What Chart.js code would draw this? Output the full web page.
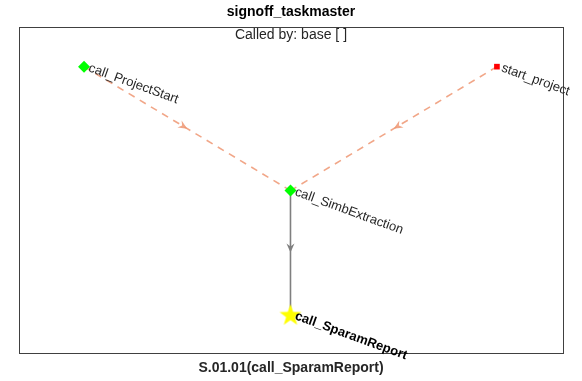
<!DOCTYPE html>
<html>
<head>
<meta charset="utf-8">
<script src="https://cdn.jsdelivr.net/npm/chart.js@4"></script>
<style>
body{margin:0;background:#fff;}
</style>
</head>
<body>
<canvas id="graphChart" width="582" height="381"></canvas>
<script>
// graph nodes (layered layout coordinates)
const nodeNames = ["call_ProjectStart","start_project","call_SimbExtraction","call_SparamReport"];
const nodeX = [1,3,2,2];
const nodeY = [3,3,2,1];
const nodeColors = ["#00ff00","#ff0000","#00ff00","#ffff00"];
// edges: from -> to
const edgeFrom = [0,1,2];
const edgeTo = [2,2,3];
const edgeColors = ["rgba(238,150,115,0.85)","rgba(238,150,115,0.85)","#7f7f7f"];
const edgeDashed = [true,true,false];
const xLimits = [0.685,3.32];
const yLimits = [0.69,3.32];

function makeStar(size){
const c = document.createElement("canvas");
c.width = size; c.height = size;
const g = c.getContext("2d");
const cx = size/2, cy = size/2+1, ro = size/2-0.5, ri = ro*0.4;
g.beginPath();
for(let i=0;i<10;i++){
const r = i%2===0 ? ro : ri;
const a = -Math.PI/2 + i*Math.PI/5;
g.lineTo(cx+r*Math.cos(a), cy+r*Math.sin(a));
}
g.closePath();
g.fillStyle = "#ffff00";
g.fill();
return c;
}
const star = makeStar(24);

const datasets = [];
datasets.push({
label:"nodes",
data: nodeX.map((x,i)=>({x:x,y:nodeY[i]})),
pointStyle:["rectRot","rect","rectRot",star],
pointRadius:[6,4,6,12],
backgroundColor:nodeColors,
borderColor:nodeColors,
borderWidth:0,
showLine:false,
order:0
});
edgeFrom.forEach((f,i)=>{
const t = edgeTo[i];
datasets.push({
label:"edge"+i,
data:[{x:nodeX[f],y:nodeY[f]},{x:nodeX[t],y:nodeY[t]}],
showLine:true,
borderColor:edgeColors[i],
borderWidth:1.6,
borderDash: edgeDashed[i] ? [7,6] : [],
pointRadius:0,
order:1
});
});

const extras = {
id:"extras",
beforeDatasetsDraw(chart){
// arrows at edge midpoints
const ctx = chart.ctx;
const xs = chart.scales.x, ys = chart.scales.y;
edgeFrom.forEach((f,i)=>{
const t = edgeTo[i];
const x1 = xs.getPixelForValue(nodeX[f]), y1 = ys.getPixelForValue(nodeY[f]);
const x2 = xs.getPixelForValue(nodeX[t]), y2 = ys.getPixelForValue(nodeY[t]);
const a = Math.atan2(y2-y1,x2-x1);
const mx = (x1+x2)/2, my = (y1+y2)/2;
ctx.save();
ctx.translate(mx,my);
ctx.rotate(a);
ctx.beginPath();
ctx.moveTo(0,0);
ctx.lineTo(-9,-4);
ctx.lineTo(-6,0);
ctx.lineTo(-9,4);
ctx.closePath();
ctx.fillStyle = edgeColors[i];
ctx.fill();
ctx.restore();
});
},
afterDraw(chart){
const ctx = chart.ctx;
const area = chart.chartArea;
const xs = chart.scales.x, ys = chart.scales.y;
ctx.save();
ctx.strokeStyle = "#404040";
ctx.lineWidth = 1;
ctx.strokeRect(Math.round(area.left)+0.5,Math.round(area.top)+0.5,Math.round(area.right-area.left),Math.round(area.bottom-area.top));
ctx.fillStyle = "#262626";
ctx.font = "14px 'Liberation Sans', Arial, sans-serif";
ctx.textAlign = "center";
ctx.textBaseline = "middle";
ctx.fillText("Called by: base [ ]",(area.left+area.right)/2,area.top+8);
// node labels
nodeNames.forEach((name,i)=>{
const px = xs.getPixelForValue(nodeX[i]), py = ys.getPixelForValue(nodeY[i]);
ctx.save();
ctx.translate(px+5,py+1);
ctx.rotate(20*Math.PI/180);
ctx.textAlign = "left";
ctx.textBaseline = "middle";
ctx.fillStyle = i===3 ? "#000" : "#262626";
ctx.font = (i===3 ? "bold " : "") + "13px 'Liberation Sans', Arial, sans-serif";
ctx.fillText(name,0,0);
ctx.restore();
});
ctx.restore();
}
};

new Chart(document.getElementById("graphChart"),{
type:"scatter",
data:{datasets:datasets},
options:{
responsive:false,
animation:false,
layout:{padding:{left:19,right:19,top:0,bottom:1}},
plugins:{
legend:{display:false},
tooltip:{enabled:false},
title:{
display:true,
text:"signoff_taskmaster",
color:"#000",
font:{family:"'Liberation Sans', Arial, sans-serif",size:14,weight:"bold"},
padding:{top:4,bottom:6.2}
}
},
scales:{
x:{
min:xLimits[0],max:xLimits[1],
grid:{display:false},
border:{display:false},
ticks:{display:false},
title:{
display:true,
text:"S.01.01(call_SparamReport)",
color:"#262626",
font:{family:"'Liberation Sans', Arial, sans-serif",size:14,weight:"bold"},
padding:{top:4,bottom:3}
},
afterFit(scale){scale.height = 27;}
},
y:{
display:false,
min:yLimits[0],max:yLimits[1]
}
}
},
plugins:[extras]
});
</script>
</body>
</html>
